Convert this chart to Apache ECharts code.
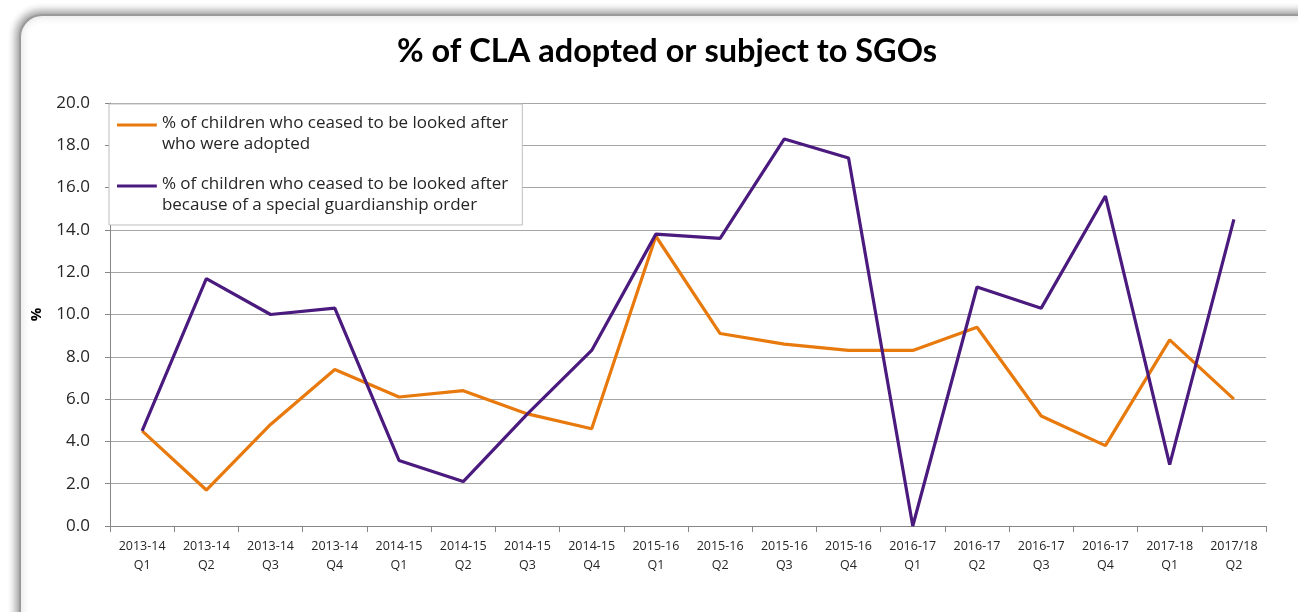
<!DOCTYPE html>
<html>
<head>
<meta charset="utf-8">
<style>
  html, body { margin: 0; padding: 0; background: #ffffff; }
  #main { width: 1298px; height: 612px; }
</style>
<script src="https://cdn.jsdelivr.net/npm/echarts@6/dist/echarts.min.js"></script>
</head>
<body>
<div id="main"></div>
<script>
var categories = [
  '2013-14\nQ1', '2013-14\nQ2', '2013-14\nQ3', '2013-14\nQ4',
  '2014-15\nQ1', '2014-15\nQ2', '2014-15\nQ3', '2014-15\nQ4',
  '2015-16\nQ1', '2015-16\nQ2', '2015-16\nQ3', '2015-16\nQ4',
  '2016-17\nQ1', '2016-17\nQ2', '2016-17\nQ3', '2016-17\nQ4',
  '2017-18\nQ1', '2017/18\nQ2'
]
var adopted = [4.5, 1.7, 4.8, 7.4, 6.1, 6.4, 5.3, 4.6, 13.7, 9.1, 8.6, 8.3, 8.3, 9.4, 5.2, 3.8, 8.8, 6.0]
var sgo = [4.5, 11.7, 10.0, 10.3, 3.1, 2.1, 5.3, 8.3, 13.8, 13.6, 18.3, 17.4, 0.0, 11.3, 10.3, 15.6, 2.9, 14.5]
var adoptedName = '% of children who ceased to be looked after\nwho were adopted'
var sgoName = '% of children who ceased to be looked after\nbecause of a special guardianship order'

var font = '"Open Sans", sans-serif'
var titleFont = 'Lato, sans-serif'
var axisGrey = '#868686'
// line sits at the top of a 20px tall icon so it lines up with the first text row
var legendIcon = 'path://M0,0H40V3H0Z M0,20H0.1V20.1H0Z'

var chart = echarts.init(document.getElementById('main'))
chart.setOption({
  animation: false,
  backgroundColor: 'transparent',
  graphic: [
    {
      type: 'rect',
      z: -10,
      shape: { x: 20, y: 15, width: 1320, height: 640, r: 22 },
      style: {
        fill: '#ffffff',
        stroke: '#9a9a9a',
        lineWidth: 2,
        shadowBlur: 10,
        shadowColor: 'rgba(0,0,0,0.45)',
        shadowOffsetX: -2,
        shadowOffsetY: -2
      },
      silent: true
    }
  ],
  title: {
    text: '% of CLA adopted or subject to SGOs',
    left: 392,
    top: 30,
    textStyle: {
      fontFamily: titleFont,
      fontSize: 32.5,
      fontWeight: 'bold',
      color: '#000'
    }
  },
  legend: {
    orient: 'vertical',
    left: 109,
    top: 104,
    padding: [9, 14, 10, 8],
    itemGap: 20,
    itemWidth: 40,
    itemHeight: 20,
    backgroundColor: '#ffffff',
    borderColor: '#bdbdbd',
    borderWidth: 1,
    borderRadius: 0,
    textStyle: {
      fontFamily: font,
      fontSize: 17,
      lineHeight: 20.5,
      color: '#262626'
    },
    data: [
      { name: adoptedName, icon: legendIcon },
      { name: sgoName, icon: legendIcon }
    ]
  },
  grid: {
    left: 110,
    right: 32,
    top: 103,
    bottom: 86
  },
  xAxis: {
    type: 'category',
    data: categories,
    boundaryGap: true,
    axisLine: { lineStyle: { color: axisGrey, width: 1 } },
    axisTick: { show: true, length: 6, lineStyle: { color: axisGrey } },
    axisLabel: {
      interval: 0,
      margin: 11,
      fontFamily: font,
      fontSize: 12.5,
      lineHeight: 19,
      color: '#262626'
    }
  },
  yAxis: {
    type: 'value',
    min: 0,
    max: 20,
    interval: 2,
    name: '%',
    nameLocation: 'middle',
    nameGap: 66,
    nameRotate: 90,
    nameTextStyle: {
      fontFamily: font,
      fontSize: 15,
      fontWeight: 'bold',
      color: '#000'
    },
    axisLine: { show: true, lineStyle: { color: axisGrey, width: 1 } },
    axisTick: { show: true, length: 5, lineStyle: { color: axisGrey } },
    axisLabel: {
      margin: 20,
      fontFamily: font,
      fontSize: 17,
      color: '#262626',
      formatter: function (v) { return v.toFixed(1) }
    },
    splitLine: { lineStyle: { color: '#a6a6a6', width: 1 } }
  },
  series: [
    {
      name: adoptedName,
      type: 'line',
      data: adopted,
      showSymbol: false,
      symbol: 'none',
      lineStyle: { color: '#E8790C', width: 3.2 },
      itemStyle: { color: '#E8790C' }
    },
    {
      name: sgoName,
      type: 'line',
      data: sgo,
      showSymbol: false,
      symbol: 'none',
      lineStyle: { color: '#4A1A7E', width: 3.2 },
      itemStyle: { color: '#4A1A7E' }
    }
  ]
})
</script>
</body>
</html>
